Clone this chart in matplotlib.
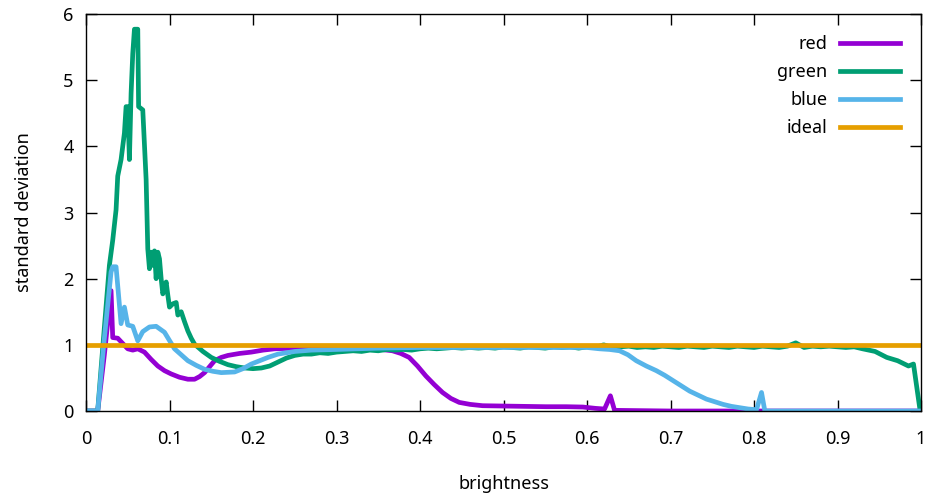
import matplotlib
matplotlib.use("Agg")
import matplotlib.pyplot as plt

plt.rcParams['font.family'] = ['Noto Sans', 'DejaVu Sans']

# red channel
red_x = [0.0, 0.014, 0.022, 0.030, 0.032, 0.038, 0.044, 0.050, 0.056, 0.062, 0.070,
         0.078, 0.086, 0.094, 0.102, 0.112, 0.122, 0.130, 0.136, 0.142, 0.148, 0.154,
         0.162, 0.170, 0.184, 0.198, 0.212, 0.226, 0.25, 0.28, 0.31, 0.34, 0.367,
         0.377, 0.387, 0.397, 0.407, 0.417, 0.427, 0.437, 0.447, 0.46, 0.475, 0.50,
         0.525, 0.551, 0.575, 0.595, 0.610, 0.621, 0.628, 0.633, 0.70, 0.80, 0.90, 1.0]
red_y = [0.0, 0.0, 0.85, 1.82, 1.11, 1.10, 1.02, 0.94, 0.92, 0.94, 0.89,
         0.78, 0.68, 0.61, 0.56, 0.51, 0.48, 0.48, 0.52, 0.58, 0.67, 0.76,
         0.81, 0.84, 0.87, 0.89, 0.92, 0.94, 0.95, 0.95, 0.96, 0.95, 0.91,
         0.87, 0.81, 0.68, 0.53, 0.40, 0.28, 0.19, 0.13, 0.10, 0.08, 0.075,
         0.07, 0.065, 0.065, 0.06, 0.04, 0.03, 0.23, 0.01, 0.0, 0.0, 0.0, 0.0]

# green channel
green_x = [0.0, 0.014, 0.020, 0.028, 0.032, 0.036, 0.038, 0.042, 0.046, 0.048, 0.050,
           0.052, 0.054, 0.056, 0.058, 0.062, 0.063, 0.068, 0.072, 0.074, 0.076, 0.078,
           0.080, 0.082, 0.084, 0.086, 0.088, 0.090, 0.092, 0.094, 0.096, 0.098, 0.100,
           0.104, 0.108, 0.110, 0.114, 0.118, 0.122, 0.126, 0.130, 0.14, 0.15, 0.16,
           0.17, 0.18, 0.19, 0.20, 0.21, 0.22, 0.23, 0.24, 0.25, 0.26, 0.27, 0.28,
           0.29, 0.30, 0.31, 0.32, 0.33, 0.34, 0.35, 0.36, 0.37, 0.38, 0.39,
           0.40, 0.41, 0.42, 0.43, 0.44, 0.45, 0.46, 0.47, 0.48, 0.49, 0.50, 0.51,
           0.52, 0.53, 0.54, 0.55, 0.56, 0.57, 0.58, 0.59, 0.60, 0.61, 0.62, 0.63,
           0.64, 0.65, 0.66, 0.67, 0.68, 0.69, 0.70, 0.71, 0.72, 0.73, 0.74, 0.75,
           0.76, 0.77, 0.78, 0.79, 0.80, 0.81, 0.82, 0.83, 0.84, 0.85, 0.86, 0.87,
           0.88, 0.89, 0.90, 0.91, 0.92, 0.93, 0.945, 0.959, 0.972, 0.985, 0.991, 0.999]
green_y = [0.0, 0.0, 0.95, 2.2, 2.58, 3.04, 3.55, 3.8, 4.2, 4.6, 4.6,
           3.8, 4.8, 5.4, 5.77, 5.77, 4.6, 4.55, 3.5, 2.45, 2.15, 2.4,
           2.2, 2.42, 2.0, 2.4, 2.3, 2.0, 1.77, 1.85, 1.95, 1.75, 1.57,
           1.62, 1.64, 1.45, 1.5, 1.35, 1.21, 1.1, 1.01, 0.9, 0.81, 0.75,
           0.70, 0.67, 0.65, 0.64, 0.65, 0.68, 0.74, 0.80, 0.84, 0.86, 0.86, 0.88,
           0.87, 0.89, 0.90, 0.91, 0.90, 0.92, 0.91, 0.93, 0.92, 0.93, 0.92,
           0.94, 0.95, 0.94, 0.95, 0.96, 0.95, 0.96, 0.95, 0.96, 0.95, 0.97, 0.96,
           0.95, 0.97, 0.96, 0.95, 0.97, 0.96, 0.97, 0.95, 0.97, 0.96, 1.00, 0.96,
           0.97, 0.98, 0.96, 0.97, 0.96, 0.98, 0.97, 0.96, 0.98, 0.97, 0.96, 0.98,
           0.97, 0.96, 0.98, 0.97, 0.96, 0.98, 0.97, 0.96, 0.98, 1.03, 0.96, 0.98,
           0.97, 0.98, 0.97, 0.96, 0.97, 0.94, 0.90, 0.81, 0.76, 0.68, 0.71, 0.0]

# blue channel
blue_x = [0.0, 0.014, 0.022, 0.030, 0.032, 0.036, 0.042, 0.046, 0.050, 0.056, 0.062,
          0.068, 0.076, 0.084, 0.094, 0.106, 0.114, 0.122, 0.132, 0.142, 0.152, 0.162,
          0.178, 0.188, 0.198, 0.208, 0.218, 0.23, 0.25, 0.27, 0.30, 0.35, 0.40,
          0.50, 0.60, 0.615, 0.627, 0.639, 0.649, 0.659, 0.671, 0.683, 0.693, 0.703,
          0.713, 0.723, 0.733, 0.743, 0.753, 0.763, 0.773, 0.783, 0.793, 0.803, 0.809,
          0.813, 0.90, 1.0]
blue_y = [0.0, 0.0, 1.1, 2.1, 2.18, 2.18, 1.32, 1.57, 1.30, 1.28, 1.06,
          1.20, 1.27, 1.28, 1.19, 0.94, 0.85, 0.76, 0.69, 0.63, 0.60, 0.58,
          0.59, 0.64, 0.71, 0.76, 0.81, 0.86, 0.90, 0.92, 0.93, 0.95, 0.96,
          0.96, 0.96, 0.94, 0.93, 0.91, 0.85, 0.76, 0.68, 0.61, 0.54, 0.46,
          0.38, 0.30, 0.24, 0.18, 0.14, 0.10, 0.07, 0.05, 0.03, 0.02, 0.28,
          0.0, 0.0, 0.0]

# ideal
ideal_x = [0.0, 1.0]
ideal_y = [1.0, 1.0]

fig = plt.figure(figsize=(9.34, 4.96), dpi=100)
ax = fig.add_axes([86 / 934, 1 - 411 / 496, 835 / 934, 397 / 496])

lw = 3.4
ax.plot(red_x, red_y, color='#9400d3', lw=lw, label='red')
ax.plot(green_x, green_y, color='#009e73', lw=lw, label='green')
ax.plot(blue_x, blue_y, color='#56b4e9', lw=lw, label='blue')
ax.plot(ideal_x, ideal_y, color='#e69f00', lw=lw, label='ideal')

ax.set_xlim(0, 1)
ax.set_ylim(0, 6)
ax.set_xticks([i / 10 for i in range(11)])
ax.set_xticklabels(['0', '0.1', '0.2', '0.3', '0.4', '0.5', '0.6', '0.7', '0.8', '0.9', '1'])
ax.set_yticks(range(7))
ax.tick_params(direction='in', length=8, width=1, top=True, right=True, labelsize=13)
ax.tick_params(axis='x', pad=14)
ax.tick_params(axis='y', pad=9)
for s in ax.spines.values():
    s.set_linewidth(1)

ax.set_xlabel('brightness', fontsize=13, labelpad=19)
ax.set_ylabel('standard deviation', fontsize=13, labelpad=22)

leg = ax.legend(loc='upper right', bbox_to_anchor=(0.983, 0.965), frameon=False,
                markerfirst=False, handlelength=3.3, fontsize=13,
                labelspacing=0.56, handletextpad=0.7, borderaxespad=0)

fig.savefig('out.png', dpi=100)
